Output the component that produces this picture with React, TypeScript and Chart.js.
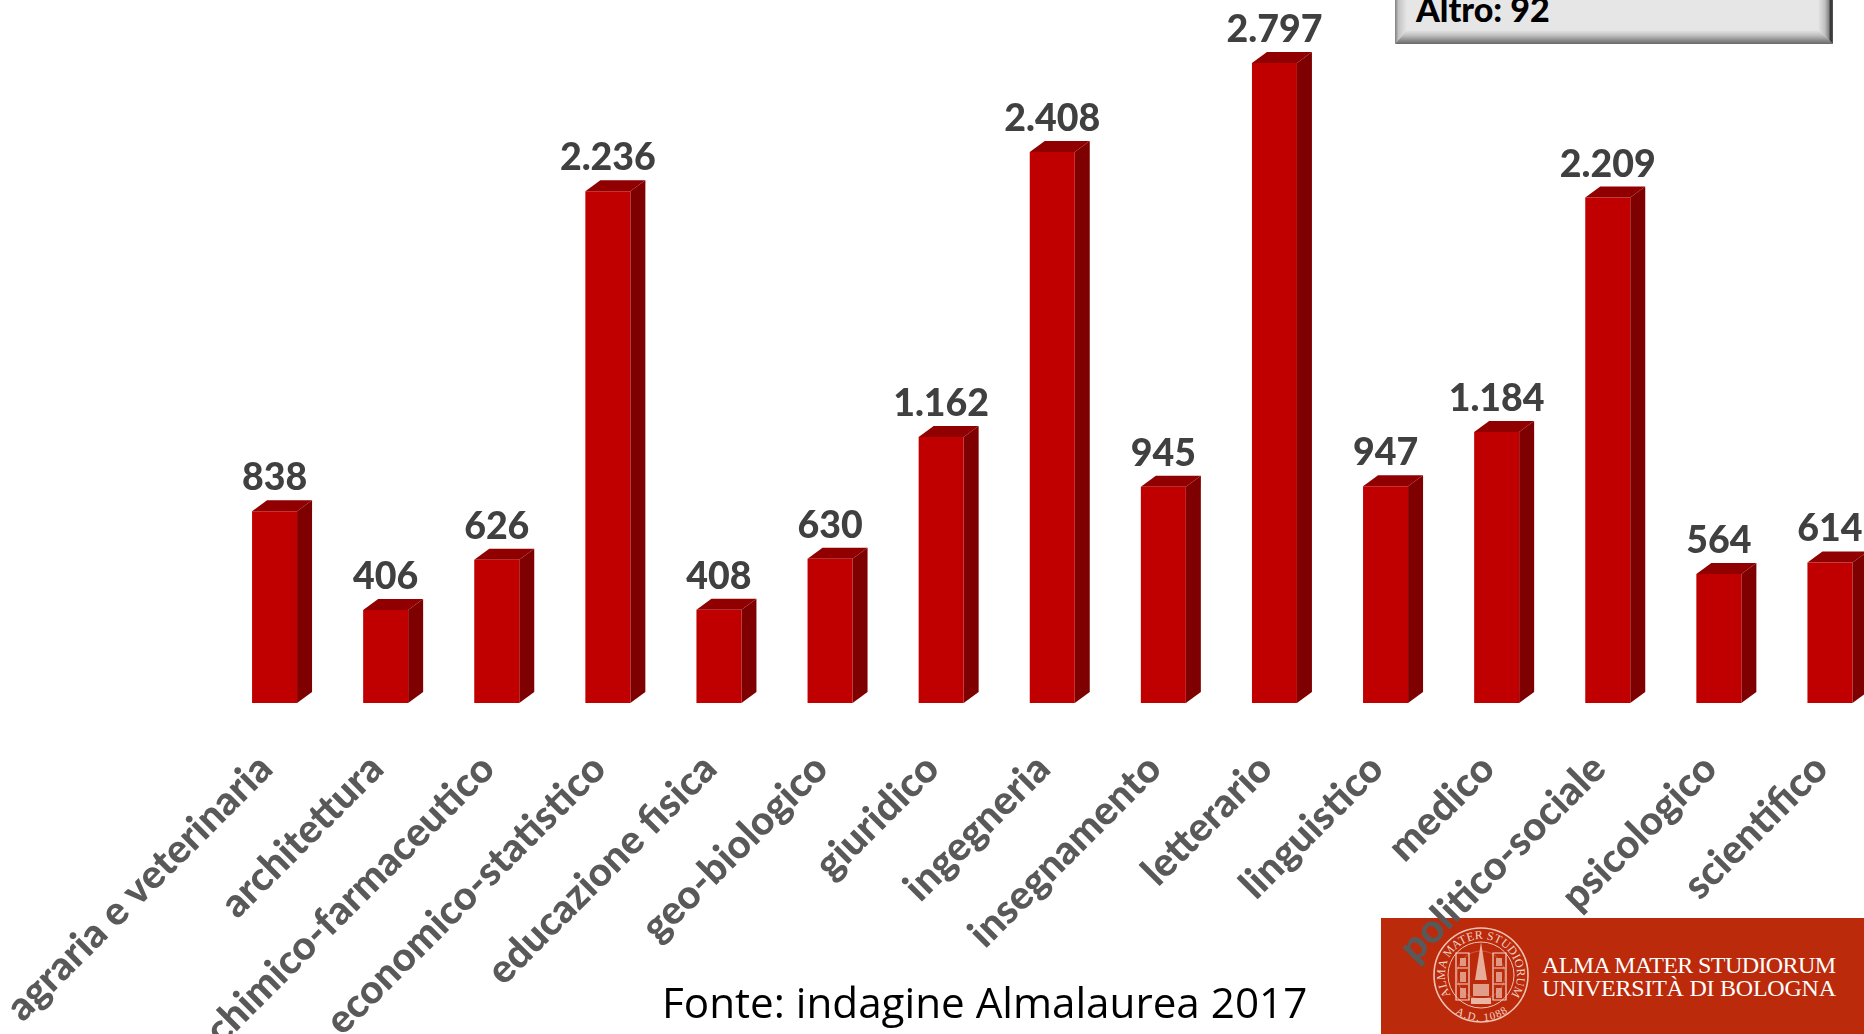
import React, { useEffect, useRef } from "react";
import { Chart, registerables } from "chart.js";

Chart.register(...registerables);

const categories = [
  "agraria e veterinaria", "architettura", "chimico-farmaceutico", "economico-statistico",
  "educazione fisica", "geo-biologico", "giuridico", "ingegneria", "insegnamento", "letterario",
  "linguistico", "medico", "politico-sociale", "psicologico", "scientifico",
];
const values = [838, 406, 626, 2236, 408, 630, 1162, 2408, 945, 2797, 947, 1184, 2209, 564, 614];
const valueLabels = ["838", "406", "626", "2.236", "408", "630", "1.162", "2.408", "945", "2.797", "947", "1.184", "2.209", "564", "614"];
const otherNote = "Altro: 92";
const sourceNote = "Fonte: indagine Almalaurea 2017";

const depthX = 15;
const depthY = 11;

const bars3d = {
  id: "bars3d",
  beforeDatasetsDraw(chart: any) {
    const { ctx } = chart;
    chart.getDatasetMeta(0).data.forEach((bar: any) => {
      const r = bar.x + bar.width / 2;
      const l = bar.x - bar.width / 2;
      ctx.save();
      ctx.fillStyle = "#7F0000";
      ctx.beginPath();
      ctx.moveTo(r, bar.y);
      ctx.lineTo(r + depthX, bar.y - depthY);
      ctx.lineTo(r + depthX, bar.base - depthY);
      ctx.lineTo(r, bar.base);
      ctx.closePath();
      ctx.fill();
      ctx.fillStyle = "#900000";
      ctx.beginPath();
      ctx.moveTo(l, bar.y);
      ctx.lineTo(l + depthX, bar.y - depthY);
      ctx.lineTo(r + depthX, bar.y - depthY);
      ctx.lineTo(r, bar.y);
      ctx.closePath();
      ctx.fill();
      ctx.restore();
    });
  },
  afterDatasetsDraw(chart: any) {
    const { ctx } = chart;
    ctx.save();
    ctx.font = "900 37.5px Lato";
    ctx.fillStyle = "#404040";
    ctx.textAlign = "center";
    ctx.textBaseline = "alphabetic";
    chart.getDatasetMeta(0).data.forEach((bar: any, i: number) => {
      ctx.fillText(valueLabels[i], bar.x, bar.y - 21);
    });
    ctx.restore();
  },
};

function Seal() {
  return (
    <svg width="483" height="116" style={{ position: "absolute", left: 1381, top: 918 }}>
      <rect width="483" height="116" fill="#BB2A0A" />
      <g fill="none" stroke="#EFC4B4">
        <circle cx="100" cy="57" r="47" strokeWidth="1.6" />
        <circle cx="100" cy="57" r="33" strokeWidth="1" />
        <circle cx="100" cy="57" r="24" strokeWidth="0.6" opacity="0.5" />
      </g>
      <g fill="none" stroke="#F3D6CA" strokeWidth="1.2">
        <path d="M75 35 L88 35 L88 82 L75 82 Z" />
        <path d="M112 35 L125 35 L125 82 L112 82 Z" />
        <path d="M76 50 L87 50 M76 66 L87 66 M113 50 L124 50 M113 66 L124 66" />
      </g>
      <g fill="#EFC4B4">
        <path d="M94 62 L100 24 L106 62 Z" opacity="0.85" />
        <rect x="79" y="40" width="6" height="8" opacity="0.7" />
        <rect x="79" y="54" width="6" height="10" opacity="0.7" />
        <rect x="79" y="70" width="6" height="10" opacity="0.7" />
        <rect x="115" y="40" width="6" height="8" opacity="0.7" />
        <rect x="115" y="54" width="6" height="10" opacity="0.7" />
        <rect x="115" y="70" width="6" height="10" opacity="0.7" />
        <rect x="92" y="66" width="16" height="12" opacity="0.75" />
        <rect x="90" y="80" width="20" height="6" opacity="0.9" />
      </g>
      <defs>
        <path id="sealArc" d="M 70 77 A 36 36 0 1 1 130 77" />
        <path id="sealBottom" d="M 68 90 A 46 46 0 0 0 132 90" />
      </defs>
      <text fontFamily="Liberation Serif" fontSize="12" fill="#F3D3C6">
        <textPath href="#sealArc" textLength="155">ALMA MATER STUDIORUM</textPath>
      </text>
      <text fontFamily="Liberation Serif" fontSize="11" fill="#F3D3C6">
        <textPath href="#sealBottom" startOffset="8" textLength="56">A.D. 1088</textPath>
      </text>
      <text x="161" y="55" fontFamily="Liberation Serif" fontSize="24" fill="#FFF" textLength="294">ALMA MATER STUDIORUM</text>
      <text x="161" y="78" fontFamily="Liberation Serif" fontSize="24" fill="#FFF" textLength="294">UNIVERSITÀ DI BOLOGNA</text>
    </svg>
  );
}

function NoteBox() {
  return (
    <div style={{ position: "absolute", left: 1395, top: 0, width: 438, height: 44 }}>
      <svg width="438" height="44" style={{ position: "absolute", left: 0, top: 0 }}>
        <defs>
          <linearGradient id="bevL" x1="0" x2="1" y1="0" y2="0">
            <stop offset="0" stopColor="#808080" />
            <stop offset="0.3" stopColor="#C4C4C4" />
            <stop offset="1" stopColor="#E6E6E6" />
          </linearGradient>
          <linearGradient id="bevR" x1="0" x2="1" y1="0" y2="0">
            <stop offset="0" stopColor="#E6E6E6" />
            <stop offset="0.45" stopColor="#C0C0C0" />
            <stop offset="0.7" stopColor="#8C8C8C" />
            <stop offset="0.85" stopColor="#2E2E2E" />
            <stop offset="1" stopColor="#5A5A5A" />
          </linearGradient>
          <linearGradient id="bevB" x1="0" x2="0" y1="0" y2="1">
            <stop offset="0" stopColor="#E6E6E6" />
            <stop offset="0.4" stopColor="#BEBEBE" />
            <stop offset="0.75" stopColor="#8A8A8A" />
            <stop offset="1" stopColor="#686868" />
          </linearGradient>
        </defs>
        <rect width="438" height="44" fill="#E6E6E6" />
        <polygon points="0,0 12,0 12,30 0,44" fill="url(#bevL)" />
        <polygon points="0,44 12,30 423,30 438,44" fill="url(#bevB)" />
        <polygon points="423,0 438,0 438,44 423,30" fill="url(#bevR)" />
      </svg>
      <div style={{ position: "absolute", left: 21, top: -12, font: "900 34px Lato", color: "#000", whiteSpace: "nowrap" }}>{otherNote}</div>
    </div>
  );
}

export default function App() {
  const ref = useRef<HTMLCanvasElement>(null);
  useEffect(() => {
    const chart = new Chart(ref.current!, {
      type: "bar",
      data: {
        labels: categories,
        datasets: [{ data: values, backgroundColor: "#C00000", barPercentage: 0.405, categoryPercentage: 1 }],
      },
      options: {
        animation: false,
        responsive: false,
        layout: { padding: { left: 219, right: 14.5, top: 16.5, bottom: 0 } },
        plugins: { legend: { display: false }, tooltip: { enabled: false } },
        scales: {
          y: { display: false, min: 0, max: 3000 },
          x: {
            afterFit(scale: any) {
              scale.height = 331;
              scale.paddingLeft = 0;
              scale.paddingRight = 0;
            },
            grid: { display: false, drawTicks: false },
            border: { display: false },
            ticks: {
              autoSkip: false, maxRotation: 45, minRotation: 45, padding: 42, labelOffset: -9,
              color: "#595959", font: { family: "Lato", weight: 900, size: 40 },
            },
          },
        },
      },
      plugins: [bars3d],
    } as any);
    return () => chart.destroy();
  }, []);
  return (
    <div style={{ position: "fixed", left: 0, top: 0, width: 1864, height: 1034, overflow: "hidden", background: "#fff" }}>
      <Seal />
      <canvas ref={ref} width={1900} height={1034} style={{ position: "absolute", left: 0, top: 0, display: "block" }} />
      <NoteBox />
      <div style={{ position: "absolute", left: 662, top: 973, font: "42.2px 'Open Sans'", color: "#000", whiteSpace: "nowrap" }}>{sourceNote}</div>
    </div>
  );
}
